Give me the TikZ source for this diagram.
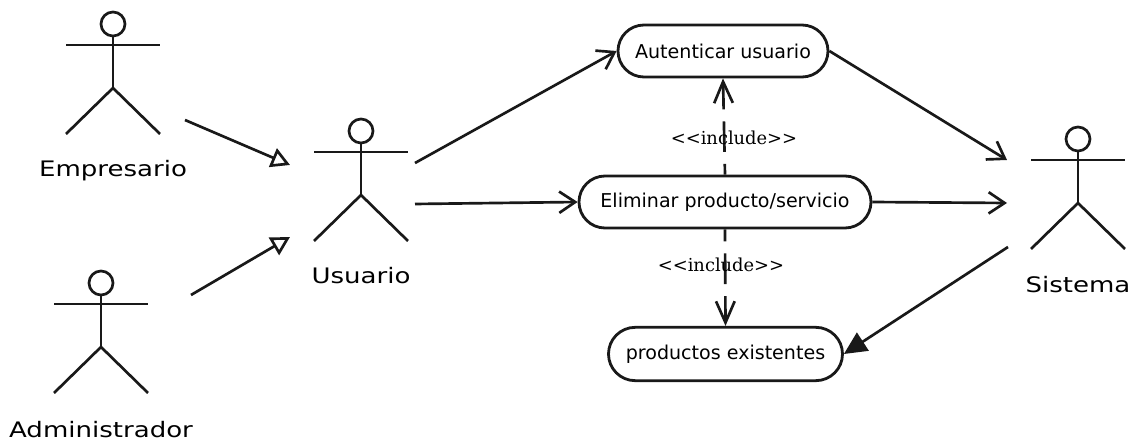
\documentclass[tikz,border=0pt]{standalone}
\usepackage{fontspec}
\setmainfont{DejaVu Sans}
\newfontfamily\incfont{DejaVu Serif}
\usetikzlibrary{arrows.meta,shapes.misc}
\tikzset{
  px/.style={x=0.75pt,y=-0.75pt},
  ln/.style={line width=2pt,black!90},
  case/.style={rounded rectangle,draw=black!90,line width=2.1pt,inner sep=0pt,font=\fontsize{14.3pt}{16pt}\selectfont},
  head/.style={circle,draw=black!90,line width=2pt,minimum size=18pt,inner sep=0pt},
  actorlabel/.style={font=\fontsize{16pt}{18pt}\selectfont},
  inc/.style={font=\incfont\fontsize{13.4pt}{15pt}\selectfont},
  assoc/.style={ln,-{Straight Barb[length=12pt,width=16pt,line width=2pt]}},
  gen/.style={ln,-{Triangle[open,length=14pt,width=15pt,line width=2pt,fill=white]}},
  filledassoc/.style={ln,-{Triangle[length=17pt,width=16pt]}},
  dep/.style={ln,dash pattern=on 23pt off 9pt,-{Straight Barb[length=16pt,width=14pt,line width=2pt]}}
}
\newcommand{\stickman}[5]{%
  \node[head] (#1h) at (#2,#3-21) {};
  \coordinate (#1neck) at (#2,#3);
  \coordinate (#1la) at (#2-47,#3);
  \coordinate (#1ra) at (#2+47,#3);
  \coordinate (#1hip) at (#2,#3+43);
  \coordinate (#1ll) at (#2-47,#3+89);
  \coordinate (#1rl) at (#2+47,#3+89);
  \draw[ln] (#1h.south) -- (#1hip);
  \draw[ln] (#1la) -- (#1ra);
  \draw[ln] (#1ll) -- (#1hip) -- (#1rl);
  \node[actorlabel] (#1t) at (#2,#4) {\scalebox{1.22}[1]{#5}};
}
\begin{document}
\begin{tikzpicture}[px]
\useasboundingbox (0,0) rectangle (1133,441);
\stickman{emp}{113}{45}{171}{Empresario}
\stickman{usu}{361}{152}{276}{Usuario}
\stickman{adm}{101}{304}{430}{Administrador}
\stickman{sis}{1078}{160}{285}{Sistema}
\node[case,minimum width=157.5pt,minimum height=39pt] (auth) at (723,51) {Autenticar usuario};
\node[case,minimum width=219pt,minimum height=39pt] (elim) at (725,202) {Eliminar producto/servicio};
\node[case,minimum width=175.5pt,minimum height=40pt] (prod) at (725.5,354) {productos existentes};
\coordinate (e1) at (185,120); \coordinate (e2) at (290,165);
\coordinate (a1) at (191,295); \coordinate (a2) at (290,237);
\coordinate (u1) at (415,163); \coordinate (u2) at (415,204);
\coordinate (s1) at (1007,160); \coordinate (s2) at (1007,203); \coordinate (s3) at (1008,247);
\draw[gen] (e1) -- (e2);
\draw[gen] (a1) -- (a2);
\draw[assoc] (u1) -- (auth.west);
\draw[assoc] (u2) -- (elim.west);
\draw[assoc] (auth.east) -- (s1);
\draw[assoc] (elim.east) -- (s2);
\draw[filledassoc] (s3) -- (prod.east);
\draw[dep,dash phase=15pt] (elim.north) -- (auth.south);
\draw[dep,dash phase=14pt] (elim.south) -- (prod.north);
\node[inc] (i1) at (734,138) {<<include>>};
\node[inc] (i2) at (721,265) {<<include>>};
\end{tikzpicture}
\end{document}
